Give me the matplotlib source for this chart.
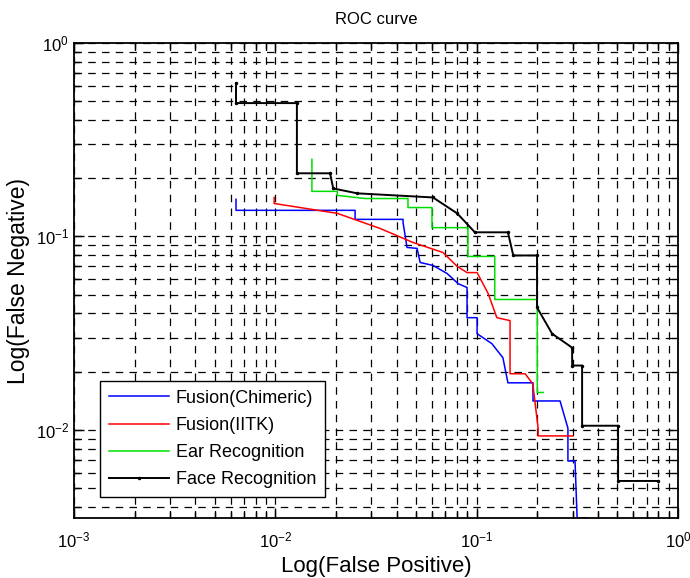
import numpy as np
import matplotlib
matplotlib.use('Agg')
import matplotlib.pyplot as plt
from matplotlib.ticker import LogLocator, NullFormatter

plt.rcParams['font.family'] = ['Liberation Sans', 'DejaVu Sans']
plt.rcParams['mathtext.default'] = 'regular'

# ROC points (false positive, false negative)
fp_chimeric = [0.00638, 0.00638, 0.0249, 0.0249, 0.0431, 0.0431, 0.0451, 0.0506, 0.0524, 0.0607,
               0.0713, 0.0809, 0.0896, 0.0896, 0.1005, 0.1005, 0.119, 0.135, 0.143, 0.1905,
               0.1905, 0.2595, 0.284, 0.284, 0.308, 0.3155, 0.357]
fn_chimeric = [0.1555, 0.1364, 0.1364, 0.1225, 0.1225, 0.118, 0.0877, 0.0867, 0.0733, 0.0708,
               0.0643, 0.057, 0.0544, 0.038, 0.038, 0.0314, 0.0279, 0.0236, 0.0175, 0.0175,
               0.0141, 0.0141, 0.0102, 0.0069, 0.0069, 0.0035, 0.0035]

fp_iitk = [0.00987, 0.00987, 0.0203, 0.0331, 0.0483, 0.068, 0.080, 0.0896, 0.1005, 0.114,
           0.126, 0.1465, 0.1465, 0.174, 0.190, 0.202, 0.202, 0.301]
fn_iitk = [0.159, 0.148, 0.1316, 0.110, 0.093, 0.0826, 0.070, 0.065, 0.065, 0.0507,
           0.038, 0.0367, 0.0195, 0.0195, 0.0173, 0.0102, 0.0093, 0.0093]

fp_ear = [0.0152, 0.0152, 0.0203, 0.0203, 0.0280, 0.0456, 0.0456, 0.060, 0.060, 0.0905,
          0.0905, 0.123, 0.123, 0.200, 0.200, 0.214]
fn_ear = [0.2506, 0.171, 0.171, 0.163, 0.157, 0.157, 0.141, 0.141, 0.111, 0.111,
          0.0788, 0.0788, 0.0472, 0.0472, 0.0156, 0.0156]

fp_face = [0.00638, 0.00638, 0.0128, 0.0128, 0.0187, 0.0194, 0.0255, 0.0607, 0.080, 0.098,
           0.143, 0.152, 0.1995, 0.1995, 0.237, 0.298, 0.298, 0.334, 0.334, 0.504,
           0.504, 0.796]
fn_face = [0.62, 0.489, 0.489, 0.212, 0.212, 0.177, 0.167, 0.159, 0.1316, 0.105,
           0.105, 0.0797, 0.0797, 0.0429, 0.0314, 0.0266, 0.0215, 0.0215, 0.0105, 0.0105,
           0.00544, 0.00544]

labels = ['Fusion(Chimeric)', 'Fusion(IITK)', 'Ear Recognition', 'Face Recognition']

fig = plt.figure(figsize=(6.9, 5.78), dpi=100)
ax = fig.add_axes([0.1072, 0.1038, 0.8754, 0.8218])

ax.plot(fp_chimeric, fn_chimeric, color='#0000ff', lw=1.1, label=labels[0])
ax.plot(fp_iitk, fn_iitk, color='#ff0000', lw=1.1, label=labels[1])
ax.plot(fp_ear, fn_ear, color='#00e000', lw=1.1, label=labels[2])
ax.plot(fp_face, fn_face, color='black', lw=1.4, marker='.', markersize=3, label=labels[3])

ax.set_xscale('log')
ax.set_yscale('log')
ax.set_xlim(1e-3, 1)
ax.set_ylim(0.0035, 1)

ax.xaxis.set_major_locator(LogLocator(base=10, numticks=10))
ax.yaxis.set_major_locator(LogLocator(base=10, numticks=10))
ax.xaxis.set_minor_locator(LogLocator(base=10, subs=np.arange(2, 10), numticks=20))
ax.yaxis.set_minor_locator(LogLocator(base=10, subs=np.arange(2, 10), numticks=20))
ax.xaxis.set_minor_formatter(NullFormatter())
ax.yaxis.set_minor_formatter(NullFormatter())

ax.grid(True, which='both', color='black', linestyle=(0, (6, 5)), linewidth=0.9)
ax.set_axisbelow(True)

ax.tick_params(which='both', direction='in', top=True, right=True, labelsize=12, colors='black')
ax.tick_params(which='major', length=7, width=1)
ax.tick_params(which='minor', length=4, width=1)
ax.tick_params(axis='x', pad=9)
for s in ax.spines.values():
    s.set_linewidth(1.3)

ax.set_title('ROC curve', fontsize=12, pad=14)
ax.set_xlabel('Log(False Positive)', fontsize=16)
ax.set_ylabel('Log(False Negative)', fontsize=16.5, labelpad=4)

leg = ax.legend(loc='lower left', bbox_to_anchor=(0.043, 0.044), borderaxespad=0,
                fontsize=13, handlelength=3.3, handletextpad=0.4, labelspacing=0.56,
                borderpad=0.5, fancybox=False, framealpha=1, edgecolor='black')
leg.get_frame().set_linewidth(1.0)

plt.savefig('out.png', dpi=100)
